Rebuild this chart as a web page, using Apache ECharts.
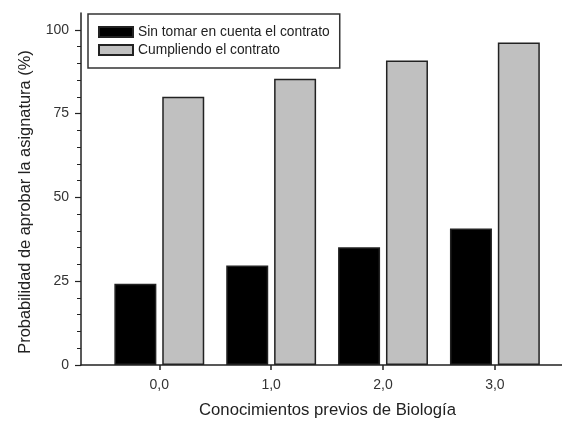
<!DOCTYPE html>
<html>
<head>
<meta charset="utf-8">
<script src="https://cdn.jsdelivr.net/npm/echarts@6/dist/echarts.min.js"></script>
<style>
html,body{margin:0;padding:0;background:#fff;}
#chart{width:562px;height:423px;}
</style>
</head>
<body>
<div id="chart"></div>
<script>
const categories = [0, 1, 2, 3];
const seriesNames = ['Sin tomar en cuenta el contrato', 'Cumpliendo el contrato'];
const sinContrato = [24.2, 29.7, 35.1, 40.7];
const cumpliendo = [80.0, 85.4, 90.8, 96.2];
const yTickLabels = [0, 25, 50, 75, 100];
const yMinorTicks = [0,5,10,15,20,25,30,35,40,45,50,55,60,65,70,75,80,85,90,95,100];

const font = 'Liberation Sans, Arial, sans-serif';
const chart = echarts.init(document.getElementById('chart'), null, {renderer: 'canvas'});
const axisColor = '#222';

chart.setOption({
  animation: false,
  backgroundColor: '#fff',
  grid: {left: 81, right: 0, top: 13, bottom: 58, outerBoundsMode: 'none', containLabel: false},
  legend: {
    orient: 'vertical',
    left: 88, top: 14,
    borderColor: '#333', borderWidth: 1.5,
    padding: [10, 10, 10, 10],
    itemWidth: 34, itemHeight: 10, itemGap: 2,
    icon: 'rect',
    textStyle: {fontFamily: font, fontSize: 13.8, lineHeight: 16, color: '#222'},
    data: seriesNames
  },
  xAxis: {
    type: 'value', min: -0.7, max: 3.6,
    name: 'Conocimientos previos de Biología',
    nameLocation: 'middle', nameGap: 37,
    nameTextStyle: {fontFamily: font, fontSize: 16.7, color: '#222', padding: [0, 0, 0, 12]},
    axisLine: {show: true, onZero: false, lineStyle: {color: axisColor, width: 1.5}},
    axisTick: {show: true, length: 5, customValues: categories, lineStyle: {color: axisColor, width: 1.5}},
    axisLabel: {customValues: categories, margin: 13, fontFamily: font, fontSize: 14, color: '#333',
      formatter: v => v.toFixed(1).replace('.', ',')},
    splitLine: {show: false}
  },
  yAxis: [{
    type: 'value', min: 0, max: 105,
    name: 'Probabilidad de aprobar la asignatura (%)',
    nameLocation: 'middle', nameGap: 48,
    nameTextStyle: {fontFamily: font, fontSize: 16.4, color: '#222', padding: [0, 26, 0, 0]},
    axisLine: {show: true, onZero: false, lineStyle: {color: axisColor, width: 1.5}},
    axisTick: {show: true, length: 6, customValues: yTickLabels, lineStyle: {color: axisColor, width: 1.2}},
    axisLabel: {customValues: yTickLabels, margin: 12, fontFamily: font, fontSize: 14, color: '#333'},
    splitLine: {show: false}
  }, {
    type: 'value', min: 0, max: 105, position: 'left',
    axisLine: {show: false, onZero: false},
    axisTick: {show: true, length: 4, customValues: yMinorTicks, lineStyle: {color: axisColor, width: 1}},
    axisLabel: {show: false},
    splitLine: {show: false}
  }],
  series: [{
    name: seriesNames[0], type: 'bar',
    data: categories.map((c, i) => [c, sinContrato[i]]),
    barWidth: 42, barGap: '14%',
    itemStyle: {color: '#000', borderColor: '#222', borderWidth: 1.5}
  }, {
    name: seriesNames[1], type: 'bar',
    data: categories.map((c, i) => [c, cumpliendo[i]]),
    barWidth: 42, barGap: '14%',
    itemStyle: {color: '#c0c0c0', borderColor: '#222', borderWidth: 1.5}
  }]
});
</script>
</body>
</html>
